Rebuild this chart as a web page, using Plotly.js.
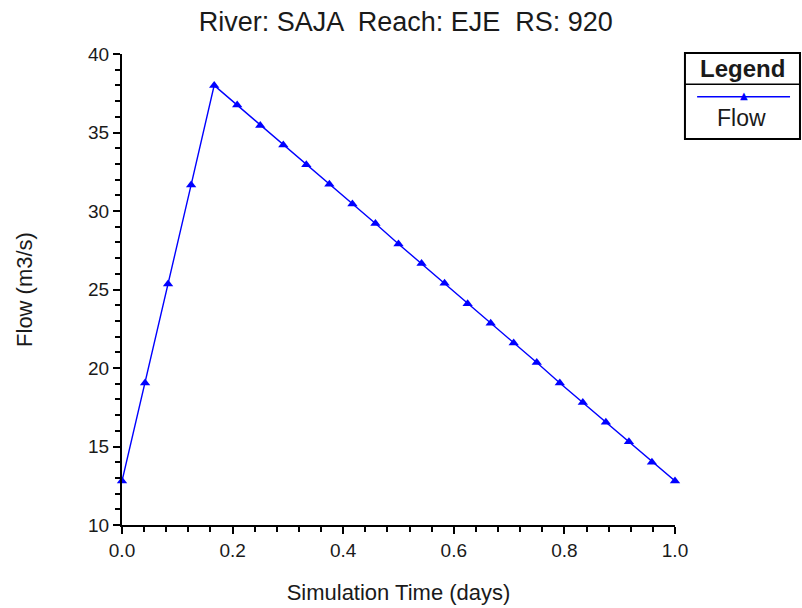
<!DOCTYPE html>
<html>
<head>
<meta charset="utf-8">
<script src="https://cdn.plot.ly/plotly-3.0.1.min.js"></script>
<style>html,body{margin:0;padding:0;background:#fff;}#chart{width:802px;height:608px;}</style>
</head>
<body>
<div id="chart"></div>
<script>
const timeDays = [0.0, 0.0417, 0.0833, 0.125, 0.1667, 0.2083, 0.25, 0.2917, 0.3333, 0.375, 0.4167, 0.4583, 0.5, 0.5417, 0.5833, 0.625, 0.6667, 0.7083, 0.75, 0.7917, 0.8333, 0.875, 0.9167, 0.9583, 1.0];
const flow = [12.8, 19.05, 25.35, 31.66, 38.0, 36.75, 35.45, 34.2, 32.95, 31.7, 30.45, 29.2, 27.9, 26.65, 25.4, 24.1, 22.85, 21.6, 20.35, 19.05, 17.8, 16.55, 15.3, 14.0, 12.8];
const seriesName = 'Flow';
const chartTitle = 'River: SAJA  Reach: EJE  RS: 920';
const xTitle = 'Simulation Time (days)';
const yTitle = 'Flow (m3/s)';
const xTickVals = [0, 0.2, 0.4, 0.6, 0.8, 1.0];
const xTickText = ['0.0', '0.2', '0.4', '0.6', '0.8', '1.0'];
const yTickVals = [10, 15, 20, 25, 30, 35, 40];

const FONT = 'Liberation Sans, Arial, sans-serif';
const BLUE = '#0000ff';
const TXT = '#1a1a1a';

const trace = {
  x: timeDays, y: flow, name: seriesName, type: 'scatter', mode: 'lines+markers',
  line: {color: BLUE, width: 1.4},
  marker: {symbol: 'triangle-up', size: 9, color: BLUE},
  cliponaxis: false
};

const layout = {
  width: 802, height: 608,
  margin: {l: 122, r: 127, t: 54, b: 83},
  paper_bgcolor: '#ffffff', plot_bgcolor: '#ffffff',
  showlegend: false,
  font: {family: FONT, color: TXT},
  title: {text: chartTitle, x: 0.506, xref: 'container', y: 0.965, yref: 'container', xanchor: 'center', yanchor: 'middle', font: {size: 27, family: FONT, color: TXT}},
  xaxis: {
    range: [0, 1], showgrid: false, zeroline: false, showline: true, linecolor: '#000', linewidth: 2,
    ticks: 'outside', ticklen: 7, tickwidth: 2, tickcolor: '#000',
    tickvals: xTickVals, ticktext: xTickText, tickfont: {size: 19, family: FONT, color: TXT},
    minor: {dtick: 0.04, ticklen: 5, tickwidth: 2, tickcolor: '#000', ticks: 'outside', showgrid: false},
    title: {text: xTitle, font: {size: 22, family: FONT, color: TXT}, standoff: 25}
  },
  yaxis: {
    range: [10, 40], showgrid: false, zeroline: false, showline: true, linecolor: '#000', linewidth: 2,
    ticks: 'outside', ticklen: 7, tickwidth: 2, tickcolor: '#000',
    tickvals: yTickVals, tickfont: {size: 19, family: FONT, color: TXT},
    minor: {dtick: 1, ticklen: 5, tickwidth: 2, tickcolor: '#000', ticks: 'outside', showgrid: false},
    title: {text: yTitle, font: {size: 22, family: FONT, color: TXT}, standoff: 49}
  },
  shapes: [
    {type: 'rect', xref: 'paper', yref: 'paper', x0: 1.018, x1: 1.226, y0: 0.8195, y1: 1.002, line: {color: '#000', width: 2}, fillcolor: 'rgba(0,0,0,0)'},
    {type: 'line', xref: 'paper', yref: 'paper', x0: 1.018, x1: 1.226, y0: 0.936, y1: 0.936, line: {color: '#000', width: 1.5}},
    {type: 'line', xref: 'paper', yref: 'paper', x0: 1.04, x1: 1.208, y0: 0.909, y1: 0.909, line: {color: BLUE, width: 1.5}}
  ],
  annotations: [
    {xref: 'paper', yref: 'paper', x: 1.122, y: 0.97, text: '<b>Legend</b>', showarrow: false, xanchor: 'center', yanchor: 'middle', font: {size: 24, family: FONT, color: TXT}},
    {xref: 'paper', yref: 'paper', x: 1.124, y: 0.912, text: '▲', showarrow: false, xanchor: 'center', yanchor: 'middle', font: {size: 10, family: 'DejaVu Sans', color: BLUE}},
    {xref: 'paper', yref: 'paper', x: 1.12, y: 0.864, text: seriesName, showarrow: false, xanchor: 'center', yanchor: 'middle', font: {size: 23, family: FONT, color: TXT}}
  ]
};

Plotly.newPlot('chart', [trace], layout, {displayModeBar: false, staticPlot: true});
</script>
</body>
</html>
